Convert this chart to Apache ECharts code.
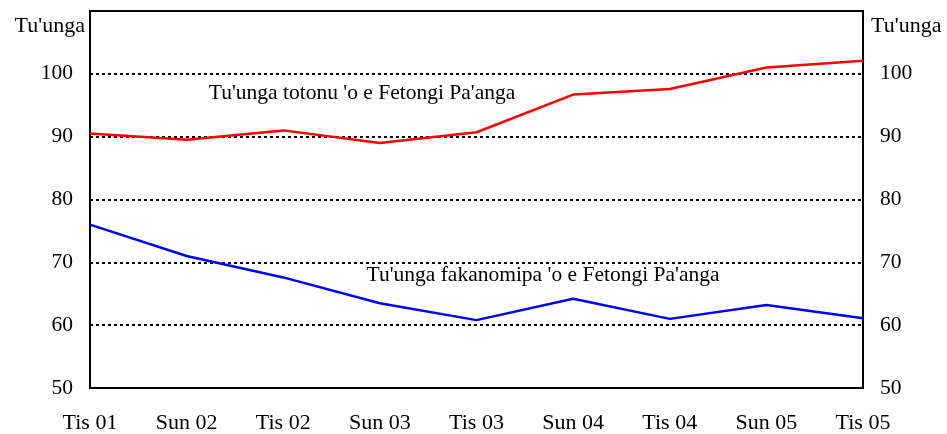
<!DOCTYPE html>
<html>
<head>
<meta charset="utf-8">
<script src="https://cdn.jsdelivr.net/npm/echarts@6/dist/echarts.min.js"></script>
<style>
  html, body { margin: 0; padding: 0; background: #fff; }
  #chart { width: 947px; height: 434px; }
</style>
</head>
<body>
<div id="chart"></div>
<script>
const categories = ["Tis 01", "Sun 02", "Tis 02", "Sun 03", "Tis 03", "Sun 04", "Tis 04", "Sun 05", "Tis 05"];
const realRate = [90.5, 89.5, 91.0, 89.0, 90.7, 96.7, 97.6, 101.0, 102.1];
const nominalRate = [76.0, 71.0, 67.6, 63.5, 60.8, 64.2, 61.0, 63.2, 61.1];
const yMin = 50;
const yMax = 110;
const yStep = 10;

const font = "'Liberation Serif', 'DejaVu Serif', serif";
const chart = echarts.init(document.getElementById("chart"));

const yAxisBase = {
  type: "value",
  min: yMin,
  max: yMax,
  interval: yStep,
  axisTick: { show: false },
  axisLine: { show: true, lineStyle: { color: "#000", width: 2 } },
  axisLabel: {
    color: "#000",
    fontFamily: font,
    fontSize: 21.5,
    margin: 17,
    formatter: v => (v === yMax ? "" : String(v)),
  },
};

chart.setOption({
  backgroundColor: "#fff",
  animation: false,
  grid: {
    left: 90, right: 84, top: 11, bottom: 46,
    show: true, borderColor: "#000", borderWidth: 2,
  },
  xAxis: {
    type: "category",
    data: categories,
    boundaryGap: false,
    axisTick: { show: false },
    axisLine: { lineStyle: { color: "#000", width: 2 } },
    axisLabel: { color: "#000", fontFamily: font, fontSize: 22, margin: 24, interval: 0 },
    splitLine: { show: false },
  },
  yAxis: [
    Object.assign({}, yAxisBase, {
      position: "left",
      splitLine: {
        show: true, showMinLine: false, showMaxLine: false,
        lineStyle: { color: "#000", width: 2, type: [3, 3] },
      },
    }),
    Object.assign({}, yAxisBase, { position: "right", splitLine: { show: false } }),
  ],
  graphic: [
    { type: "text", right: 862, top: 15, style: { text: "Tu'unga", font: "22px " + font, fill: "#000" } },
    { type: "text", left: 871, top: 15, style: { text: "Tu'unga", font: "22px " + font, fill: "#000" } },
    { type: "text", x: 362, y: 93, style: { text: "Tu'unga totonu 'o e Fetongi Pa'anga", font: "21.5px " + font, fill: "#000", align: "center", verticalAlign: "middle" } },
    { type: "text", x: 543, y: 275, style: { text: "Tu'unga fakanomipa 'o e Fetongi Pa'anga", font: "21.5px " + font, fill: "#000", align: "center", verticalAlign: "middle" } },
  ],
  series: [
    {
      name: "Tu'unga totonu",
      type: "line",
      data: realRate,
      symbol: "none",
      lineStyle: { color: "#ff0000", width: 2.5 },
    },
    {
      name: "Tu'unga fakanomipa",
      type: "line",
      data: nominalRate,
      symbol: "none",
      lineStyle: { color: "#0000ff", width: 2.5 },
    },
  ],
});
</script>
</body>
</html>
